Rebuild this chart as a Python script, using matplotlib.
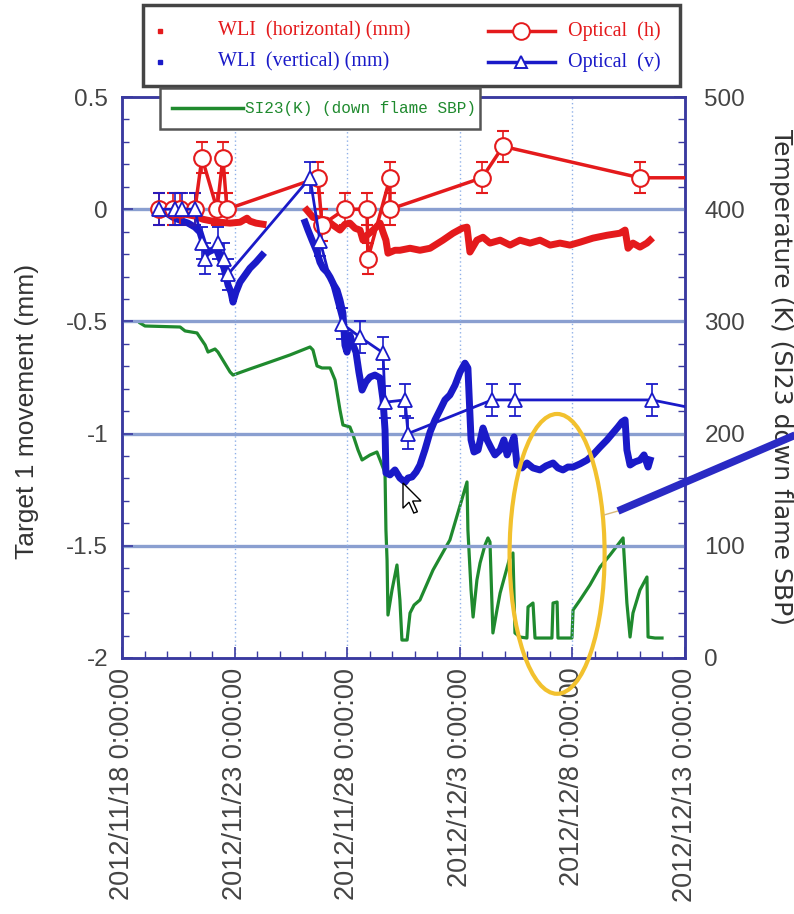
# Target 1 movement vs. time, WLI / optical measurements with SI23 temperature

import matplotlib
matplotlib.use("Agg")
import matplotlib.pyplot as plt
from matplotlib.lines import Line2D
from matplotlib.patches import Ellipse, Rectangle, Polygon
from matplotlib.ticker import MultipleLocator
import numpy as np

plt.rcParams['font.family'] = ['Liberation Sans', 'DejaVu Sans']

# ---- data (x = days since 2012/11/18 0:00:00) ----
tick_days = [0, 5, 10, 15, 20, 25]
tick_labels = ["2012/11/18 0:00:00", "2012/11/23 0:00:00", "2012/11/28 0:00:00",
               "2012/12/3 0:00:00", "2012/12/8 0:00:00", "2012/12/13 0:00:00"]
left_ticks = [0.5, 0, -0.5, -1, -1.5, -2]
left_labels = ["0.5", "0", "-0.5", "-1", "-1.5", "-2"]
right_ticks = [0, 100, 200, 300, 400, 500]

# optical (h), red circles
opt_h_day = [1.64, 2.26, 2.58, 3.24, 3.55, 4.22, 4.48, 4.66, 8.70, 8.88, 9.90,
             10.88, 10.92, 11.90, 11.90, 15.99, 16.92, 23.00, 26.0]
opt_h_mm = [0, 0, 0, 0, 0.23, 0, 0.23, 0, 0.14, -0.07, 0,
            0, -0.22, 0.14, 0, 0.14, 0.28, 0.14, 0.14]

# optical (v), blue triangles
opt_v_day = [1.64, 2.35, 2.66, 3.24, 3.55, 3.69, 4.26, 4.53, 4.71, 8.35, 8.79,
             9.77, 10.57, 11.59, 11.68, 12.57, 12.70, 16.43, 17.45, 23.53, 26.0]
opt_v_mm = [0, 0, 0, 0, -0.15, -0.22, -0.15, -0.22, -0.29, 0.14, -0.14,
            -0.51, -0.57, -0.64, -0.86, -0.85, -1.0, -0.85, -0.85, -0.85, -0.90]
opt_err = 0.07

# WLI horizontal (two recording periods)
wli_h_day1 = [2.80, 3.24, 3.60, 4.00, 4.35, 4.80, 5.24, 5.55, 5.68, 5.95, 6.26]
wli_h_mm1 = [-0.022, -0.031, -0.045, -0.053, -0.058, -0.062, -0.058, -0.040, -0.053, -0.062, -0.067]
wli_h_day2 = [8.21, 8.48, 8.79, 9.10, 9.37, 9.68, 9.90, 10.12, 10.35, 10.57, 10.70, 10.88,
              11.15, 11.46, 11.59, 11.72, 11.81, 12.12, 12.34, 12.79, 13.23, 13.68, 14.25,
              14.70, 15.10, 15.32, 15.45, 15.76, 16.03, 16.34, 16.79, 17.23, 17.67, 18.12,
              18.56, 19.01, 19.45, 19.89, 20.34, 20.91, 21.54, 22.11, 22.34, 22.47, 22.69,
              23.00, 23.31, 23.45]
wli_h_mm2 = [-0.004, -0.036, -0.045, -0.049, -0.071, -0.093, -0.067, -0.062, -0.085, -0.093,
             -0.138, -0.116, -0.093, -0.062, -0.102, -0.138, -0.196, -0.183, -0.183, -0.174,
             -0.183, -0.174, -0.138, -0.107, -0.085, -0.080, -0.191, -0.138, -0.125, -0.151,
             -0.138, -0.160, -0.138, -0.151, -0.138, -0.160, -0.151, -0.160, -0.147, -0.129,
             -0.116, -0.107, -0.093, -0.174, -0.151, -0.169, -0.151, -0.138]

# WLI vertical
wli_v_day1 = [1.91, 2.26, 2.58, 2.93, 3.24, 3.46, 3.64, 3.82, 4.00, 4.17, 4.35, 4.53, 4.71,
              4.84, 4.93, 5.06, 5.24, 5.46, 5.68, 5.95, 6.22]
wli_v_mm1 = [-0.013, -0.036, -0.049, -0.062, -0.080, -0.102, -0.160, -0.191, -0.183, -0.174,
             -0.218, -0.263, -0.338, -0.370, -0.414, -0.370, -0.325, -0.294, -0.263, -0.236, -0.205]
wli_v_day2 = [8.13, 8.26, 8.44, 8.66, 8.79, 8.93, 9.10, 9.24, 9.41, 9.55, 9.68, 9.81, 9.90,
              9.99, 10.12, 10.26, 10.39, 10.52, 10.66, 10.83, 11.01, 11.23, 11.46, 11.59,
              11.68, 11.72, 11.90, 12.12, 12.34, 12.57, 12.70, 12.88, 13.06, 13.23, 13.45,
              13.68, 13.90, 14.12, 14.34, 14.56, 14.79, 15.01, 15.23, 15.36, 15.50, 15.63,
              15.81, 16.03, 16.21, 16.39, 16.56, 16.79, 16.96, 17.10, 17.27, 17.41, 17.54,
              17.76, 17.98, 18.25, 18.56, 18.83, 19.14, 19.36, 19.58, 19.80, 20.03, 20.34,
              20.65, 20.91, 21.23, 21.54, 21.80, 22.02, 22.20, 22.34, 22.42, 22.56, 22.78,
              23.00, 23.18, 23.36, 23.45]
wli_v_mm2 = [-0.058, -0.093, -0.138, -0.191, -0.236, -0.263, -0.280, -0.303, -0.338, -0.361,
             -0.405, -0.463, -0.606, -0.637, -0.561, -0.606, -0.637, -0.726, -0.806, -0.770,
             -0.748, -0.739, -0.752, -0.850, -0.984, -1.175, -1.184, -1.162, -1.198, -1.216,
             -1.198, -1.193, -1.171, -1.140, -1.073, -0.993, -0.939, -0.895, -0.850, -0.828,
             -0.784, -0.726, -0.686, -0.708, -1.028, -1.082, -1.073, -0.975, -1.028, -1.064,
             -1.095, -1.073, -1.028, -1.095, -1.051, -1.015, -1.140, -1.153, -1.131, -1.153,
             -1.162, -1.144, -1.131, -1.153, -1.162, -1.149, -1.149, -1.135, -1.118, -1.095,
             -1.060, -1.028, -0.997, -0.971, -0.948, -0.939, -1.073, -1.140, -1.126, -1.118,
             -1.095, -1.149, -1.118]

# SI23 temperature (K), down flame SBP
si23_day = [0.80, 1.02, 2.58, 2.80, 3.33, 3.69, 3.82, 4.13, 4.26, 4.80, 4.93, 5.68, 6.57,
            7.46, 8.35, 8.48, 8.66, 8.88, 9.24, 9.46, 9.68, 9.81, 10.12, 10.26, 10.48,
            10.66, 11.01, 11.32, 11.46, 11.68, 11.72, 11.77, 11.81, 11.99, 12.21, 12.34,
            12.43, 12.66, 12.79, 12.97, 13.23, 13.81, 14.56, 15.32, 15.36, 15.50, 15.59,
            15.76, 15.90, 16.12, 16.25, 16.34, 16.47, 16.65, 16.79, 17.01, 17.23, 17.36,
            17.45, 17.67, 17.98, 18.03, 18.25, 18.34, 19.09, 19.14, 19.32, 19.36, 19.98,
            20.03, 20.34, 20.78, 21.23, 21.67, 22.25, 22.42, 22.56, 22.69, 23.00, 23.31,
            23.36, 23.67, 23.98]
si23_K = [298.6, 295.9, 295.0, 291.5, 289.7, 279.0, 272.7, 275.4, 272.7, 254.9, 252.2,
          257.6, 263.8, 270.1, 277.2, 274.5, 260.3, 258.5, 258.5, 247.8, 221.0, 207.7,
          205.9, 198.8, 185.4, 176.5, 180.9, 183.6, 176.5, 164.9, 114.1, 87.3, 38.3, 60.6,
          82.9, 51.7, 16.0, 16.0, 40.1, 47.2, 51.7, 78.4, 105.2, 156.9, 114.1, 60.6, 36.5,
          69.5, 84.7, 100.7, 107.0, 103.4, 22.3, 42.8, 57.9, 74.0, 90.0, 93.6, 22.3, 18.7,
          17.8, 45.5, 49.0, 17.8, 17.8, 49.0, 49.9, 17.8, 17.8, 42.8, 51.7, 65.1, 81.1,
          91.8, 107.0, 49.0, 18.7, 40.1, 60.6, 72.2, 18.7, 17.8, 17.8]

RED = '#e41a1c'
BLUE = '#1a1ac8'
GREEN = '#1f8a2e'
SPINE = '#3a3aa0'
W, H = 794, 914


def fx(px):
    return px / W


def fy(py):
    return 1 - py / H


fig = plt.figure(figsize=(W / 100, H / 100), dpi=100)
ax = fig.add_axes([fx(122), fy(658), 563 / W, 561 / H])
ax2 = ax.twinx()
ax.set_zorder(ax2.get_zorder() + 1)
ax.patch.set_visible(False)

# temperature on right axis
ax2.plot(si23_day, si23_K, color=GREEN, lw=2.3)
ax2.set_ylim(0, 500)
ax2.set_yticks(right_ticks)
ax2.yaxis.set_minor_locator(MultipleLocator(20))

# WLI traces
ax.plot(wli_h_day1, wli_h_mm1, color=RED, lw=5, solid_joinstyle='round')
ax.plot(wli_h_day2, wli_h_mm2, color=RED, lw=5, solid_joinstyle='round')
ax.plot(wli_v_day1, wli_v_mm1, color=BLUE, lw=5, solid_joinstyle='round')
ax.plot(wli_v_day2, wli_v_mm2, color=BLUE, lw=5, solid_joinstyle='round')

# optical points with error bars
ax.errorbar(opt_h_day, opt_h_mm, yerr=opt_err, color=RED, lw=2.5, elinewidth=1.2,
            capsize=4, capthick=1.2, marker='o', ms=12, mfc='white', mec=RED, mew=1.5,
            ecolor=RED, zorder=4)
ax.errorbar(opt_v_day, opt_v_mm, yerr=opt_err, color=BLUE, lw=2, elinewidth=1.2,
            capsize=4, capthick=1.2, marker='^', ms=10, mfc='white', mec=BLUE, mew=1.3,
            ecolor=BLUE, zorder=4)

ax.set_xlim(0, 25)
ax.set_ylim(-2, 0.5)
ax.set_xticks(tick_days)
ax.set_xticklabels(tick_labels, rotation=90, ha='center', va='top', fontsize=19.5)
ax.xaxis.set_minor_locator(MultipleLocator(1))
ax.set_yticks(left_ticks)
ax.set_yticklabels(left_labels)
ax.yaxis.set_minor_locator(MultipleLocator(0.1))

# grid
for v in [0, -0.5, -1, -1.5]:
    ax.axhline(v, color='#8a9fd0', lw=2.4, zorder=0.5)
for d in tick_days[1:-1]:
    ax.axvline(d, color='#8fb0e8', lw=1, ls=(0, (1, 2)), zorder=0.5)

for a in (ax, ax2):
    for s in a.spines.values():
        s.set_color(SPINE)
        s.set_linewidth(1.8)
ax.tick_params(axis='both', which='major', direction='in', length=8, width=1.2,
               color=SPINE, labelcolor='#444444', right=False)
ax.tick_params(axis='y', labelsize=17.5, pad=10)
ax.tick_params(axis='both', which='minor', direction='in', length=5, width=1,
               color=SPINE, right=False)
ax.tick_params(axis='x', pad=7)
ax2.tick_params(axis='y', which='major', direction='in', length=8, width=1.2,
                color=SPINE, labelsize=17.5, labelcolor='#444444', pad=14)
ax2.tick_params(axis='y', which='minor', direction='in', length=5, width=1, color=SPINE)

ax.set_ylabel("Target 1 movement (mm)", fontsize=19, color='#333333')
ax.yaxis.set_label_coords(-0.148, 0.44)
fig.text(fx(781), fy(377), "Temperature (K) (SI23 down flame SBP)", fontsize=18,
         family=['DejaVu Sans'], color='#333333', rotation=270, ha='center', va='center')

# highlight ellipse
ax.add_patch(Ellipse((19.32, -1.536), 4.22, 1.247, fill=False, ec='#f2c12e', lw=3,
                     clip_on=False, zorder=10))

# annotation pointer line
fig.add_artist(Line2D([fx(604), fx(618)], [fy(515), fy(511)], color='#d8b878', lw=1))
fig.add_artist(Line2D([fx(618), fx(800)], [fy(511), fy(433)], color='#2a2ac4', lw=5.5,
                      solid_capstyle='butt', zorder=8))

# mouse cursor
cur = np.array([[0, 0], [0, 21], [5, 16], [9, 25], [12, 24], [8, 15], [15, 15]]) * 1.2
cur_x = [fx(403 + p[0]) for p in cur]
cur_y = [fy(483 + p[1]) for p in cur]
fig.add_artist(Polygon(np.column_stack([cur_x, cur_y]), closed=True, fc='white', ec='black',
                       lw=1, transform=fig.transFigure, zorder=20))

# legend 1
fig.add_artist(Rectangle((fx(143), fy(86)), 537 / W, 81 / H, transform=fig.transFigure,
                         fc='white', ec='#444444', lw=2.5, zorder=5))
serif = ['Liberation Serif', 'DejaVu Serif']
for py, col, lab in [(31, RED, "WLI  (horizontal) (mm)"), (62, BLUE, "WLI  (vertical) (mm)")]:
    fig.add_artist(Line2D([fx(160)], [fy(py)], marker='s', ms=3.5, color=col, ls='none',
                          transform=fig.transFigure, zorder=6))
    fig.text(fx(218), fy(py), lab, color=col, fontsize=14.5, family=serif, va='center',
             ha='left', zorder=6)
for py, col, mk, ms, lab in [(31, RED, 'o', 12, "Optical  (h)"), (62, BLUE, '^', 9, "Optical  (v)")]:
    fig.add_artist(Line2D([fx(488), fx(555)], [fy(py), fy(py)], color=col, lw=2.5,
                          transform=fig.transFigure, zorder=6))
    fig.add_artist(Line2D([fx(521)], [fy(py)], marker=mk, ms=ms, mfc='white', mec=col, mew=1.4,
                          ls='none', transform=fig.transFigure, zorder=7))
    fig.text(fx(568), fy(py), lab, color=col, fontsize=14.5, family=serif, va='center',
             ha='left', zorder=6)

# legend 2
fig.add_artist(Rectangle((fx(160), fy(129)), 320 / W, 41 / H, transform=fig.transFigure,
                         fc='white', ec='#555555', lw=1.8, zorder=5))
fig.add_artist(Line2D([fx(172), fx(243)], [fy(108), fy(108)], color=GREEN, lw=2.5,
                      transform=fig.transFigure, zorder=6))
fig.text(fx(245), fy(108), "SI23(K) (down flame SBP)", color=GREEN, fontsize=11.5,
         family=['Liberation Mono', 'DejaVu Sans Mono'], va='center', ha='left', zorder=6)

fig.savefig("out.png", dpi=100)
